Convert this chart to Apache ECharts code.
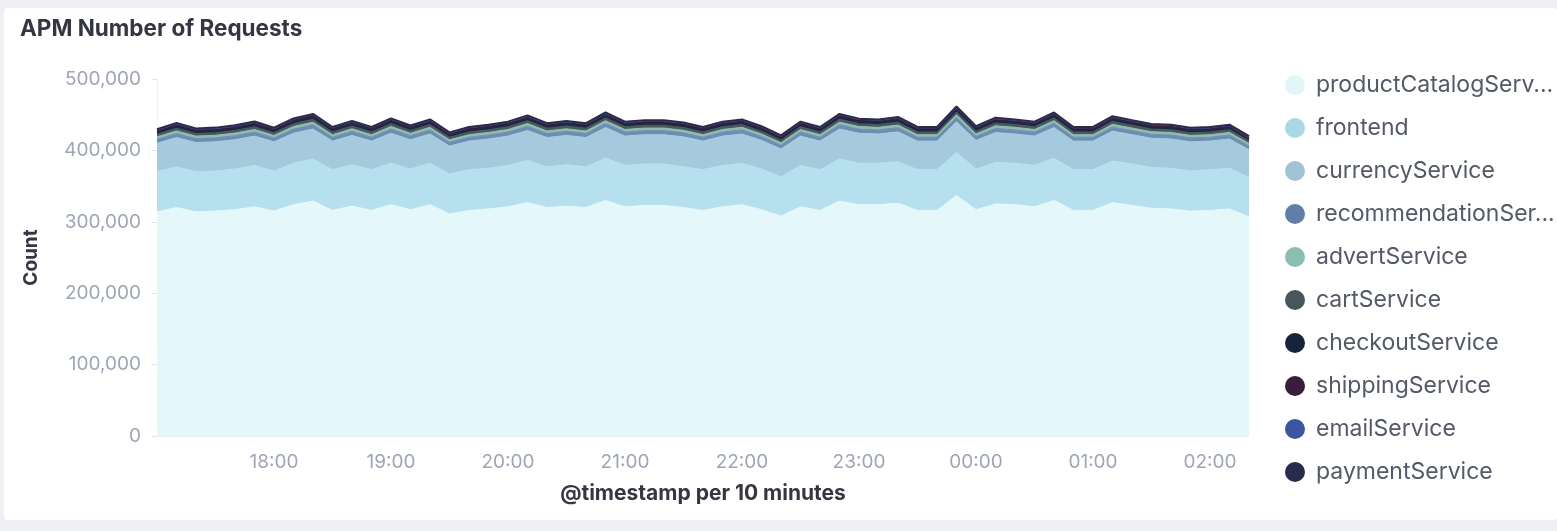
<!DOCTYPE html>
<html>
<head>
<meta charset="utf-8">
<script src="https://cdn.jsdelivr.net/npm/echarts@6/dist/echarts.min.js"></script>
<style>
  html, body { margin: 0; padding: 0; background: #eef0f3; width: 1557px; height: 531px; overflow: hidden; }
  #panel { position: absolute; left: 4px; top: 8px; width: 1553px; height: 512px; background: #fff; border-radius: 4px; }
  #title { position: absolute; left: 16px; top: 6px; font-family: Inter, "Noto Sans", sans-serif; font-weight: 700; font-size: 22.5px; color: #343741; }
  #chart { position: absolute; left: 0; top: 0; width: 1553px; height: 512px; }
</style>
</head>
<body>
<div id="panel">
  <div id="chart"></div>
  <div id="title">APM Number of Requests</div>
</div>
<script>
// 10 minute buckets
var times = ['17:00','17:10','17:20','17:30','17:40','17:50','18:00','18:10','18:20','18:30','18:40','18:50',
  '19:00','19:10','19:20','19:30','19:40','19:50','20:00','20:10','20:20','20:30','20:40','20:50',
  '21:00','21:10','21:20','21:30','21:40','21:50','22:00','22:10','22:20','22:30','22:40','22:50',
  '23:00','23:10','23:20','23:30','23:40','23:50','00:00','00:10','00:20','00:30','00:40','00:50',
  '01:00','01:10','01:20','01:30','01:40','01:50','02:00','02:10','02:20'];

var productCatalogService = [314000,320000,314000,315000,317000,321000,315000,324000,329000,316000,322000,316000,
  324000,317000,324000,311000,316000,318000,321000,327000,320000,322000,320000,330000,
  321000,323000,323000,320000,316000,321000,324000,317000,308000,321000,316000,329000,
  324000,324000,326000,316000,316000,337000,317000,325000,324000,321000,330000,316000,
  316000,327000,323000,319000,318000,315000,316000,318000,307000];
var frontend = [56000,57000,56000,56000,57000,58000,56000,58000,59000,57000,58000,57000,
  58000,57000,58000,56000,57000,57000,58000,59000,57000,58000,57000,59000,
  58000,58000,58000,57000,57000,58000,58000,57000,55000,58000,57000,59000,
  58000,58000,58000,57000,57000,60000,57000,58000,58000,58000,59000,57000,
  57000,58000,58000,57000,57000,56000,57000,57000,55000];
var currencyService = [40000,41000,41000,41000,41000,41000,41000,42000,42000,40000,41000,40000,
  42000,41000,41000,39000,40000,41000,41000,42000,41000,41000,41000,43000,
  41000,41000,41000,42000,40000,41000,41000,40000,39000,41000,40000,42000,
  42000,41000,42000,40000,40000,43000,40000,42000,41000,41000,43000,40000,
  40000,42000,41000,41000,41000,41000,40000,41000,39000];
var recommendationService = [5500,5700,5500,5600,5600,5700,5500,5800,5900,5500,5700,5500,
  5800,5600,5700,5400,5500,5600,5700,5900,5600,5700,5600,5900,
  5700,5700,5700,5600,5500,5700,5700,5600,5300,5700,5500,5900,
  5800,5700,5800,5500,5500,6000,5600,5800,5700,5700,5900,5500,
  5500,5800,5700,5600,5600,5500,5500,5600,5300];
var advertService = [3500,3600,3500,3500,3600,3600,3500,3700,3700,3500,3600,3500,
  3700,3500,3600,3400,3500,3600,3600,3700,3600,3600,3600,3700,
  3600,3600,3600,3600,3500,3600,3600,3500,3400,3600,3500,3700,
  3600,3600,3700,3500,3500,3800,3500,3700,3600,3600,3700,3500,
  3500,3700,3600,3600,3600,3500,3500,3600,3400];
var cartService = [3400,3500,3400,3400,3500,3500,3400,3500,3600,3400,3500,3400,
  3500,3400,3500,3300,3400,3400,3500,3600,3500,3500,3500,3600,
  3500,3500,3500,3500,3400,3500,3500,3400,3300,3500,3400,3600,
  3500,3500,3500,3400,3400,3700,3400,3500,3500,3500,3600,3400,
  3400,3600,3500,3400,3400,3400,3400,3400,3300];
var checkoutService = [3000,3100,3000,3000,3000,3100,3000,3100,3200,3000,3100,3000,
  3100,3000,3100,2900,3000,3000,3100,3200,3000,3100,3000,3200,
  3100,3100,3100,3000,3000,3100,3100,3000,2900,3100,3000,3200,
  3100,3100,3100,3000,3000,3200,3000,3100,3100,3100,3200,3000,
  3000,3100,3100,3000,3000,3000,3000,3000,2900];
var shippingService = [2000,2000,2000,2000,2000,2100,2000,2100,2100,2000,2000,2000,
  2100,2000,2100,1900,2000,2000,2000,2100,2000,2000,2000,2100,
  2000,2100,2100,2000,2000,2000,2100,2000,1900,2000,2000,2100,
  2100,2100,2100,2000,2000,2200,2000,2100,2100,2000,2100,2000,
  2000,2100,2100,2000,2000,2000,2000,2000,1900];
var emailService = [1500,1500,1500,1500,1500,1500,1500,1600,1600,1500,1500,1500,
  1600,1500,1500,1400,1500,1500,1500,1600,1500,1500,1500,1600,
  1500,1500,1500,1500,1500,1500,1500,1500,1400,1500,1500,1600,
  1500,1500,1600,1500,1500,1600,1500,1600,1500,1500,1600,1500,
  1500,1600,1500,1500,1500,1500,1500,1500,1400];
var paymentService = [900,900,900,900,900,900,900,1000,1000,900,900,900,
  1000,900,900,900,900,900,900,1000,900,900,900,1000,
  900,900,900,900,900,900,900,900,800,900,900,1000,
  900,900,1000,900,900,1000,900,1000,900,900,1000,900,
  900,1000,900,900,900,900,900,900,800];

var yTicks = [0, 100000, 200000, 300000, 400000, 500000];

var names = ['productCatalogService','frontend','currencyService','recommendationService','advertService',
  'cartService','checkoutService','shippingService','emailService','paymentService'];
// legend text as shown (long names are cut)
var legendLabels = ['productCatalogServ...','frontend','currencyService','recommendationSer...','advertService',
  'cartService','checkoutService','shippingService','emailService','paymentService'];
var values = [productCatalogService, frontend, currencyService, recommendationService, advertService,
  cartService, checkoutService, shippingService, emailService, paymentService];
var colors = ['#e4f7fb','#b7e0ef','#a6cadd','#6f8db0','#8cbdb3','#4a585d','#1b2942','#3a1d3b','#3a57a2','#2c2a4a'];
var legendColors = ['#e2f6fa','#a9d9e4','#a2c2d6','#5f7fa6','#8bbdb3','#48555a','#15233d','#3a1c3c','#3a56a0','#2a2a4c'];

var FONT = 'Inter, "Noto Sans", sans-serif';

var myChart = echarts.init(document.getElementById('chart'));

var series = [];
for (var i = 0; i < names.length; i++) {
  series.push({
    name: names[i],
    type: 'line',
    stack: 'total',
    data: values[i],
    symbol: 'none',
    color: legendColors[i],
    lineStyle: { width: i == 9 ? 2 : (i >= 5 ? 1.5 : 1), color: colors[i] },
    areaStyle: { color: colors[i], opacity: 1 },
    emphasis: { disabled: true }
  });
}

var option = {
  animation: false,
  textStyle: { fontFamily: FONT },
  legend: {
    orient: 'vertical',
    left: 1276,
    top: 60,
    icon: 'circle',
    itemWidth: 20,
    itemHeight: 20,
    itemGap: 19,
    data: names,
    formatter: function (name) {
      return legendLabels[names.indexOf(name)];
    },
    textStyle: {
      color: '#535966',
      fontSize: 23,
      lineHeight: 24,
      padding: [0, 0, 0, 6]
    }
  },
  grid: { left: 153, top: 71, right: 308, bottom: 84 },
  xAxis: {
    type: 'category',
    boundaryGap: false,
    data: times,
    name: '@timestamp per 10 minutes',
    nameLocation: 'middle',
    nameGap: 47,
    nameTextStyle: { color: '#343741', fontWeight: 'bold', fontSize: 21 },
    axisLine: { lineStyle: { color: '#eef0f3' } },
    axisTick: { show: false },
    axisLabel: {
      color: '#9ea6b5',
      fontSize: 19,
      margin: 17,
      interval: function (index, value) {
        return index > 0 && value.slice(3) === '00';
      }
    },
    splitLine: { show: false }
  },
  yAxis: {
    type: 'value',
    min: yTicks[0],
    max: yTicks[yTicks.length - 1],
    interval: 100000,
    name: 'Count',
    nameLocation: 'middle',
    nameGap: 116,
    nameTextStyle: { color: '#343741', fontWeight: 'bold', fontSize: 19 },
    axisLine: { show: true, lineStyle: { color: '#eef0f3' } },
    axisTick: { show: true, length: 5, lineStyle: { color: '#dfe3ea' } },
    axisLabel: {
      color: '#9ea6b5',
      fontSize: 19,
      margin: 16,
      formatter: function (v) { return v.toLocaleString('en-US'); }
    },
    splitLine: { show: false }
  },
  series: series
};

myChart.setOption(option);
window.addEventListener('resize', function () {
  myChart.resize();
}, false);
</script>
</body>
</html>
